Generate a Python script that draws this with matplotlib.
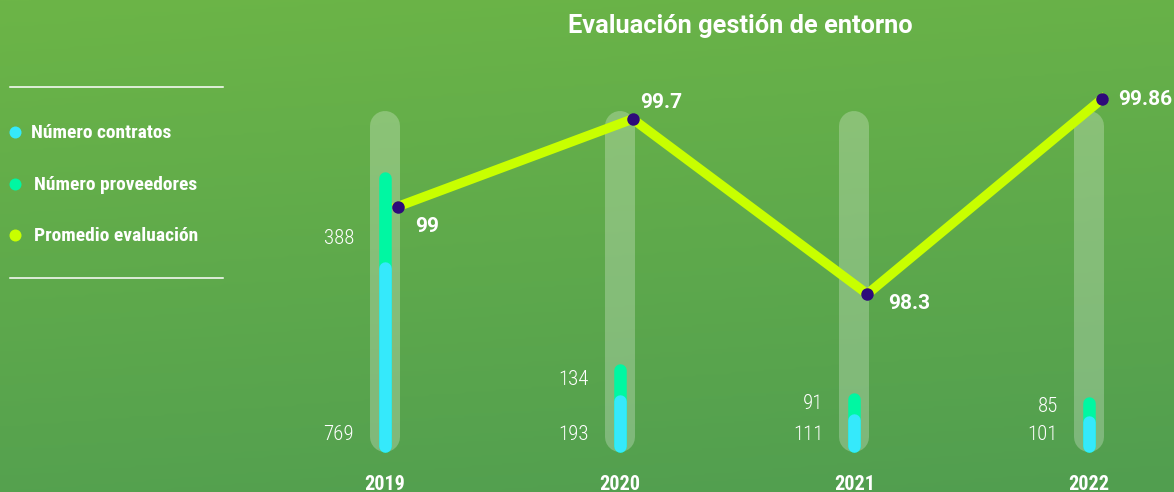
import numpy as np
import matplotlib
matplotlib.use('Agg')
import matplotlib.pyplot as plt
from matplotlib import font_manager
from matplotlib.lines import Line2D
from matplotlib.colors import LinearSegmentedColormap

# 01 Data
Years = ['2019', '2020', '2021', '2022']
Contratos = [769, 193, 111, 101]
Proveedores = [388, 134, 91, 85]
Promedio = [99, 99.7, 98.3, 99.86]
PromedioLabels = ['99', '99.7', '98.3', '99.86']
LegendLabels = ['Número contratos', 'Número proveedores', 'Promedio evaluación']
Title = 'Evaluación gestión de entorno'

ColorContratos = '#35e9fb'
ColorProveedores = '#00f7a2'
ColorLinea = '#c8ff00'
ColorPunto = '#2e0a7a'

# 02 Fonts
Installed = {f.name for f in font_manager.fontManager.ttflist}
Narrow = 'DejaVu Sans'
for Name in ['Liberation Sans Narrow', 'Roboto Condensed', 'Open Sans Condensed', 'Roboto']:
    if Name in Installed:
        Narrow = Name
        break
Wide = 'Roboto' if 'Roboto' in Installed else 'DejaVu Sans'

# 03 Figure and background
W, H = 1174, 492
Figure = plt.figure(figsize=(W / 100, H / 100), dpi=100)

Bg = Figure.add_axes([0, 0, 1, 1])
Yy, Xx = np.mgrid[0:1:200j, 0:1:400j]
Grad = 0.85 * Yy + 0.15 * Xx
Cmap = LinearSegmentedColormap.from_list('bg', ['#6cb547', '#519e50'])
Bg.imshow(Grad, cmap=Cmap, aspect='auto', extent=[0, 1, 0, 1], origin='upper')
Bg.axis('off')

# 04 Bars
Step = 234.67          # px between categories
X0 = 385               # px of first category
K = 0.231              # px per count
Base = 40              # px of baseline from bottom
Axes = Figure.add_axes([0, 0, 1, 1], facecolor='none')
Axes.set_xlim(-X0 / Step, (W - X0) / Step)
Axes.set_ylim(-Base / K, (H - Base) / K)
Axes.axis('off')

Cap = 6.25 / K         # half bar width in counts
TrackTop = 341 / K
TrackCap = 15 / K
x = np.arange(len(Years))
for i in x:
    Axes.plot([i, i], [TrackCap, TrackTop - TrackCap], color='white', alpha=0.25,
              lw=30 * 0.72, solid_capstyle='round')
    Axes.plot([i, i], [Cap, Cap + Contratos[i] + Proveedores[i]], color=ColorProveedores,
              lw=12.5 * 0.72, solid_capstyle='round')
    Axes.plot([i, i], [Cap, Cap + Contratos[i]], color=ColorContratos,
              lw=12.5 * 0.72, solid_capstyle='round')
    Axes.annotate(str(Contratos[i]), (i, 74), xytext=(-31 * 0.72, 0), textcoords='offset points',
                  ha='right', va='center', color='white', fontsize=15, fontweight='light', family=Narrow)
    Axes.annotate(str(Proveedores[i]), (i, 2 * Cap + Contratos[i] + min(Proveedores[i] / 2, 100)),
                  xytext=(-31 * 0.72, 0), textcoords='offset points',
                  ha='right', va='center', color='white', fontsize=15, fontweight='light', family=Narrow)
    Axes.annotate(Years[i], (i, 0), xytext=(0, -32 * 0.72), textcoords='offset points',
                  ha='center', va='center', color='white', fontsize=14.5, fontweight='bold', family=Narrow)

# 05 Line
Twin = Axes.twinx()
Twin.set_ylim(99.7 - 373 / 125, 99.7 + 119 / 125)
Twin.axis('off')
LineX = x + 13 / Step
Twin.plot(LineX, Promedio, color=ColorLinea, lw=9.5 * 0.72, solid_joinstyle='miter', zorder=3)
Twin.plot(LineX, Promedio, 'o', color=ColorPunto, ms=12.5 * 0.72, mec='none', zorder=4)
Offsets = [(17, -20), (7, 17), (21, -9), (16, 0)]
for i in x:
    Twin.annotate(PromedioLabels[i], (LineX[i], Promedio[i]),
                  xytext=(Offsets[i][0] * 0.72, Offsets[i][1] * 0.72), textcoords='offset points',
                  ha='left', va='center', color='white', fontsize=15, fontweight='bold', family=Wide)

# 06 Title and legend
Figure.text(740 / W, 1 - 26 / H, Title, ha='center', va='center', color='white',
            fontsize=18.3, fontweight='bold', family=Wide)

for Yl in [87, 278]:
    Figure.add_artist(Line2D([10 / W, 223 / W], [1 - Yl / H, 1 - Yl / H], color='white', lw=1.1))
LegendColors = [ColorContratos, ColorProveedores, ColorLinea]
LegendY = [133, 185, 236]
LegendX = [31, 34, 34]
for Label, Color, Yl, Xl in zip(LegendLabels, LegendColors, LegendY, LegendX):
    Figure.add_artist(Line2D([15 / W], [1 - (Yl - 1) / H], marker='o', ms=12 * 0.72,
                             color=Color, mec='none', lw=0))
    Figure.text(Xl / W, 1 - Yl / H, Label, ha='left', va='center', color='white',
                fontsize=14, fontweight='bold', family=Narrow)

Figure.savefig('out.png', dpi=100)
